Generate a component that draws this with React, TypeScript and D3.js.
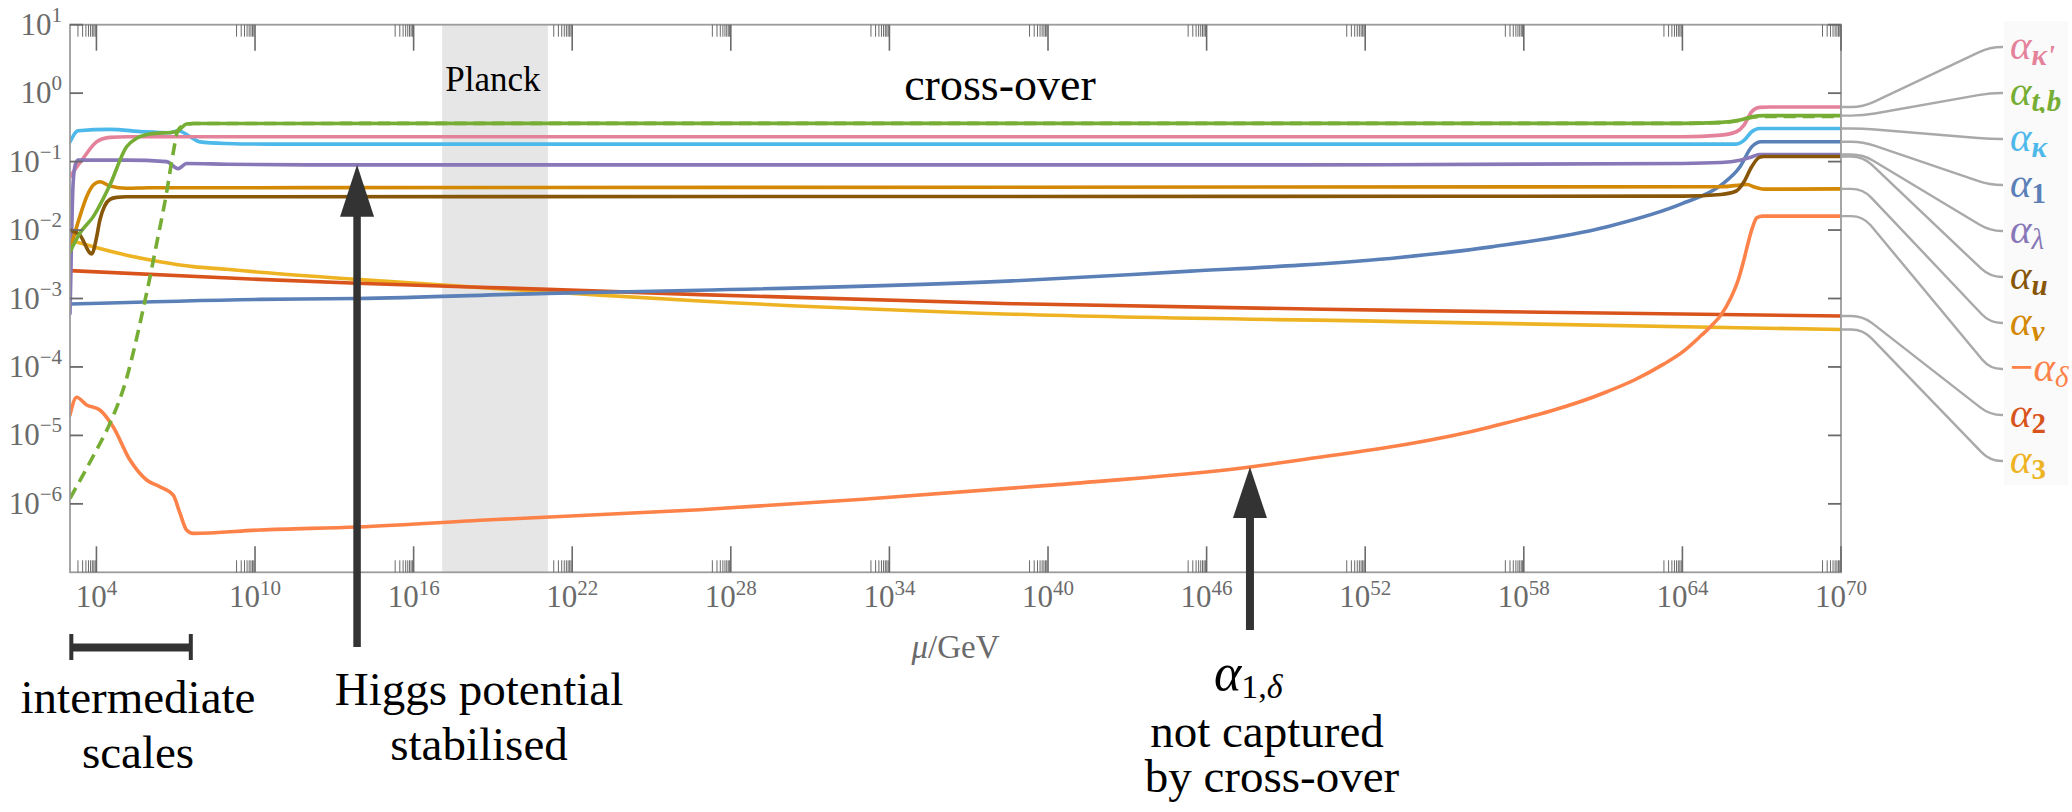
import React from 'react';
import * as d3 from 'd3';

// Each point is [log10(mu / GeV), alpha]
type Pt = [number, number];

const ALPHA_KAPPA_PRIME: Pt[] = [
  [3.0, 0.06], [3.5, 0.112], [4.01, 0.195], [4.51, 0.226], [5.2, 0.231], [64.0, 0.231],
  [65.46, 0.244], [66.04, 0.273], [66.33, 0.342], [66.62, 0.535], [66.91, 0.62], [67.3, 0.626], [70, 0.626],
];
const ALPHA_TB: Pt[] = [
  [3.0, 4.8e-3], [3.37, 8.95e-3], [3.88, 0.0157], [4.51, 0.0455], [5.14, 0.165], [5.52, 0.219],
  [6.02, 0.253], [7.03, 0.273], [7.41, 0.355], [7.66, 0.361], [64.0, 0.362], [65.46, 0.374],
  [66.18, 0.405], [66.62, 0.452], [67.1, 0.47], [70, 0.47],
];
const ALPHA_TB_ALT: Pt[] = [
  [3.0, 1.2e-6], [3.88, 5.0e-6], [4.51, 1.5e-5], [5.14, 6.8e-5], [5.45, 2.0e-4], [5.77, 7.1e-4],
  [6.02, 2.0e-3], [6.28, 6.4e-3], [6.65, 0.0344], [6.9, 0.132], [7.09, 0.29], [7.35, 0.343],
  [7.66, 0.361], [64.0, 0.362], [65.46, 0.372], [66.18, 0.4], [66.62, 0.44], [67.1, 0.455], [70, 0.455],
];
const ALPHA_KAPPA: Pt[] = [
  [3.0, 0.194], [3.31, 0.282], [4.51, 0.296], [5.77, 0.273], [6.78, 0.264], [7.09, 0.282],
  [7.54, 0.231], [7.91, 0.194], [8.92, 0.184], [10.5, 0.18], [66.04, 0.18], [66.33, 0.204],
  [66.62, 0.273], [66.91, 0.305], [70, 0.305],
];
const ALPHA_1: Pt[] = [
  [3.0, 8.3e-4], [10.18, 9.7e-4], [13.86, 1.0e-3], [21.08, 1.19e-3], [26.83, 1.32e-3],
  [38.66, 1.81e-3], [45.4, 2.51e-3], [49.54, 3.07e-3], [53.3, 3.98e-3], [56.77, 5.68e-3],
  [61.12, 0.0111], [64.01, 0.0245], [65.46, 0.0453], [66.18, 0.084], [66.62, 0.164], [66.98, 0.195], [70, 0.195],
];
const ALPHA_LAMBDA: Pt[] = [
  [3.0, 6e-4], [3.03, 2e-3], [3.07, 0.012], [3.12, 0.05], [3.2, 0.09], [3.31, 0.105], [5.14, 0.105],
  [6.65, 0.1], [7.09, 0.079], [7.41, 0.0937], [8.92, 0.0915], [12, 0.0897], [49.54, 0.0897],
  [64.01, 0.094], [65.46, 0.097], [66.18, 0.105], [66.62, 0.117], [66.91, 0.127], [70, 0.127],
];
const ALPHA_U: Pt[] = [
  [3.0, 0.01], [3.37, 8.45e-3], [3.82, 4.47e-3], [4.01, 8.0e-3], [4.13, 0.014], [4.51, 0.0281],
  [4.76, 0.03], [5.14, 0.0306], [64.01, 0.0313], [65.46, 0.0331], [66.04, 0.0372], [66.33, 0.0507],
  [66.62, 0.084], [66.91, 0.115], [67.1, 0.119], [70, 0.119],
];
const ALPHA_V: Pt[] = [
  [3.0, 5.08e-3], [3.37, 0.0157], [3.63, 0.0307], [3.88, 0.0455], [4.13, 0.0508], [4.51, 0.044],
  [5.14, 0.0407], [6.0, 0.0414], [65.46, 0.0429], [66.47, 0.0464], [66.69, 0.0429], [67.1, 0.0396], [70, 0.04],
];
const ALPHA_DELTA: Pt[] = [
  [3.0, 1.99e-5], [3.25, 3.6e-5], [3.63, 2.78e-5], [4.13, 2.35e-5], [4.63, 1.34e-5], [5.27, 4.36e-6],
  [5.9, 2.23e-6], [6.4, 1.78e-6], [6.9, 1.35e-6], [7.16, 7.3e-7], [7.41, 4.15e-7], [7.66, 3.7e-7],
  [10.18, 4.15e-7], [13.86, 4.6e-7], [19.1, 5.9e-7], [26.83, 8.2e-7], [33, 1.17e-6], [40, 1.86e-6],
  [47.64, 3.45e-6], [49.54, 4.36e-6], [56.77, 1.34e-5], [61.12, 4.3e-5], [62.2, 6.5e-5],
  [63.29, 1.1e-4], [64.01, 1.66e-4], [64.74, 2.95e-4], [65.1, 4.0e-4], [65.46, 5.74e-4], [65.82, 1.0e-3],
  [66.11, 1.86e-3], [66.32, 3.6e-3], [66.62, 0.01], [66.82, 0.0152], [67.04, 0.016], [70, 0.016],
];
const ALPHA_2: Pt[] = [
  [3.0, 2.55e-3], [10.18, 1.9e-3], [13.86, 1.67e-3], [21.08, 1.36e-3], [26.83, 1.14e-3],
  [38.66, 8.4e-4], [53.3, 6.7e-4], [70, 5.55e-4],
];
const ALPHA_3: Pt[] = [
  [3.0, 7.1e-3], [3.88, 5.7e-3], [5.14, 4.3e-3], [6.4, 3.45e-3], [7.66, 2.92e-3], [8.92, 2.67e-3],
  [10.18, 2.42e-3], [13.86, 1.9e-3], [18.5, 1.45e-3], [23.05, 1.12e-3], [26.83, 9.2e-4],
  [38.66, 5.9e-4], [53.3, 4.6e-4], [70, 3.52e-4],
];

const X_TICK_EXPS = [4, 10, 16, 22, 28, 34, 40, 46, 52, 58, 64, 70];
const Y_TICK_EXPS = [1, 0, -1, -2, -3, -4, -5, -6];
const MINOR_MULTS = [2, 3, 4, 5, 6, 7, 8, 9];

// log10(mu/GeV) ranges and annotation anchors
const PLANCK_BAND: [number, number] = [17.08, 21.08];
const INTERMEDIATE_RANGE: [number, number] = [3.05, 7.57];
const HIGGS_ARROW: Pt = [13.86, 0.0897];
const CROSSOVER_ARROW: Pt = [47.64, 3.45e-6];

type Series = {
  data: Pt[];
  color: string;
  dashed?: boolean;
};

const COLORS = {
  kappaPrime: '#e5829b',
  tb: '#76ad34',
  kappa: '#4db8ea',
  one: '#5b80b8',
  lambda: '#8878b8',
  u: '#875608',
  v: '#d38905',
  delta: '#fd8249',
  two: '#d9541c',
  three: '#eeb322',
};

// drawing order: later entries on top
const SERIES: Series[] = [
  { data: ALPHA_3, color: COLORS.three },
  { data: ALPHA_2, color: COLORS.two },
  { data: ALPHA_DELTA, color: COLORS.delta },
  { data: ALPHA_1, color: COLORS.one },
  { data: ALPHA_KAPPA, color: COLORS.kappa },
  { data: ALPHA_KAPPA_PRIME, color: COLORS.kappaPrime },
  { data: ALPHA_LAMBDA, color: COLORS.lambda },
  { data: ALPHA_V, color: COLORS.v },
  { data: ALPHA_U, color: COLORS.u },
  { data: ALPHA_TB, color: COLORS.tb },
  { data: ALPHA_TB_ALT, color: COLORS.tb, dashed: true },
];

type LegendItem = {
  data: Pt[];
  color: string;
  sub: string;
  subBold: boolean;
  subItalic: boolean;
  prefix?: string;
};

const LEGEND: LegendItem[] = [
  { data: ALPHA_KAPPA_PRIME, color: COLORS.kappaPrime, sub: "κ'", subBold: true, subItalic: true },
  { data: ALPHA_TB, color: COLORS.tb, sub: 't,b', subBold: true, subItalic: true },
  { data: ALPHA_KAPPA, color: COLORS.kappa, sub: 'κ', subBold: true, subItalic: true },
  { data: ALPHA_1, color: COLORS.one, sub: '1', subBold: true, subItalic: false },
  { data: ALPHA_LAMBDA, color: COLORS.lambda, sub: 'λ', subBold: false, subItalic: true },
  { data: ALPHA_U, color: COLORS.u, sub: 'u', subBold: true, subItalic: true },
  { data: ALPHA_V, color: COLORS.v, sub: 'v', subBold: true, subItalic: true },
  { data: ALPHA_DELTA, color: COLORS.delta, sub: 'δ', subBold: false, subItalic: true, prefix: '−' },
  { data: ALPHA_2, color: COLORS.two, sub: '2', subBold: true, subItalic: false },
  { data: ALPHA_3, color: COLORS.three, sub: '3', subBold: true, subItalic: false },
];

const SERIF = "'Liberation Serif', 'DejaVu Serif', serif";
const TICK_GRAY = '#6a6a6a';
const FRAME_GRAY = '#9c9c9c';
const INK = '#333333';

function leaderPath(x0: number, y0: number, xa: number, xb: number, x1: number, y1: number, r: number) {
  const dx = xb - xa;
  const dy = y1 - y0;
  const L = Math.hypot(dx, dy);
  const ux = dx / L;
  const uy = dy / L;
  const rr = Math.min(r, L / 2);
  return [
    `M${x0},${y0}`,
    `L${xa - rr},${y0}`,
    `Q${xa},${y0} ${xa + ux * rr},${y0 + uy * rr}`,
    `L${xb - ux * rr},${y1 - uy * rr}`,
    `Q${xb},${y1} ${xb + rr},${y1}`,
    `L${x1},${y1}`,
  ].join(' ');
}

function Arrow({ x, tipY, endY, headW, headH, shaftW }: { x: number; tipY: number; endY: number; headW: number; headH: number; shaftW: number }) {
  const baseY = tipY + headH;
  return (
    <g fill={INK}>
      <rect x={x - shaftW / 2} y={baseY - 1} width={shaftW} height={endY - baseY + 1} />
      <polygon points={`${x},${tipY} ${x - headW / 2},${baseY} ${x + headW / 2},${baseY}`} />
    </g>
  );
}

export default function App() {
  const W = 2072;
  const H = 812;
  const plot = { left: 70, right: 1841, top: 24.7, bottom: 572.3 };
  const mu = (e: number) => Math.pow(10, e);

  const x = d3.scaleLog().domain([1e3, 1e70]).range([plot.left, plot.right]);
  const y = d3.scaleLog().domain([1e-7, 10]).range([plot.bottom, plot.top]);

  const line = d3
    .line<Pt>()
    .x((d) => x(mu(d[0])))
    .y((d) => y(d[1]))
    .curve(d3.curveMonotoneX);

  const majorLen = 26;
  const minorLen = 12;
  const yTickLen = 13;

  const legendX = 2010;
  const legendBase = 59;
  const legendStep = 46;

  return (
    <svg
      width={W}
      height={H}
      viewBox={`0 0 ${W} ${H}`}
      style={{ position: 'absolute', left: 0, top: 0, background: '#fff' }}
      fontFamily={SERIF}
    >
      <defs>
        <clipPath id="plot-area">
          <rect x={plot.left} y={plot.top} width={plot.right - plot.left} height={plot.bottom - plot.top} />
        </clipPath>
      </defs>

      {/* Planck band */}
      <rect
        x={x(mu(PLANCK_BAND[0]))}
        y={plot.top}
        width={x(mu(PLANCK_BAND[1])) - x(mu(PLANCK_BAND[0]))}
        height={plot.bottom - plot.top}
        fill="#e6e6e6"
      />

      {/* running couplings */}
      <g clipPath="url(#plot-area)" fill="none" strokeLinecap="round" strokeLinejoin="round">
        {SERIES.map((s, i) => (
          <path
            key={i}
            d={line(s.data) || ''}
            stroke={s.color}
            strokeWidth={3.6}
            strokeDasharray={s.dashed ? '12 7' : undefined}
            strokeLinecap={s.dashed ? 'butt' : 'round'}
          />
        ))}
      </g>

      {/* frame */}
      <rect
        x={plot.left}
        y={plot.top}
        width={plot.right - plot.left}
        height={plot.bottom - plot.top}
        fill="none"
        stroke={FRAME_GRAY}
        strokeWidth={1.8}
      />

      {/* x ticks, top and bottom */}
      <g stroke={TICK_GRAY}>
        {X_TICK_EXPS.map((e) => {
          const xm = x(mu(e));
          return (
            <g key={e}>
              <line x1={xm} x2={xm} y1={plot.top} y2={plot.top + majorLen} strokeWidth={1.6} />
              <line x1={xm} x2={xm} y1={plot.bottom} y2={plot.bottom - majorLen} strokeWidth={1.6} />
              {MINOR_MULTS.map((k) => {
                const xn = x(k * mu(e - 1));
                return (
                  <g key={k}>
                    <line x1={xn} x2={xn} y1={plot.top} y2={plot.top + minorLen} strokeWidth={1} />
                    <line x1={xn} x2={xn} y1={plot.bottom} y2={plot.bottom - minorLen} strokeWidth={1} />
                  </g>
                );
              })}
            </g>
          );
        })}
        {Y_TICK_EXPS.map((e) => {
          const ym = y(mu(e));
          return (
            <g key={e}>
              <line x1={plot.left} x2={plot.left + yTickLen} y1={ym} y2={ym} strokeWidth={1.8} />
              <line x1={plot.right} x2={plot.right - yTickLen} y1={ym} y2={ym} strokeWidth={1.8} />
            </g>
          );
        })}
      </g>

      {/* x tick labels */}
      <g fill={TICK_GRAY} fontSize={31} textAnchor="middle">
        {X_TICK_EXPS.map((e) => (
          <text key={e} x={x(mu(e))} y={607}>
            10
            <tspan dy={-12} fontSize={21}>{e}</tspan>
          </text>
        ))}
      </g>

      {/* y tick labels */}
      <g fill={TICK_GRAY} fontSize={31} textAnchor="end">
        {Y_TICK_EXPS.map((e) => (
          <text key={e} x={62} y={y(mu(e)) + 10}>
            10
            <tspan dy={-13} fontSize={21}>{e < 0 ? `−${-e}` : `${e}`}</tspan>
          </text>
        ))}
      </g>

      {/* axis label */}
      <text x={(plot.left + plot.right) / 2} y={658} fill={TICK_GRAY} fontSize={33} textAnchor="middle">
        <tspan fontStyle="italic">μ</tspan>/GeV
      </text>

      {/* legend */}
      <g>
        {LEGEND.map((item, i) => {
          const last = item.data[item.data.length - 1];
          const y0 = y(last[1]);
          const base = legendBase + i * legendStep;
          const y1 = base - 12;
          return (
            <g key={i}>
              <rect x={2004} y={base - 38} width={64} height={50} fill="#fafafa" />
              <path
                d={leaderPath(plot.right, y0, 1863, 1990, 2003, y1, 12)}
                fill="none"
                stroke="#a9a9a9"
                strokeWidth={2.4}
              />
              <text x={legendX} y={base} fill={item.color} fontSize={41}>
                {item.prefix ? <tspan fontWeight="bold">{item.prefix}</tspan> : null}
                <tspan fontStyle="italic">α</tspan>
                <tspan
                  dy={6}
                  fontSize={29}
                  fontWeight={item.subBold ? 'bold' : 'normal'}
                  fontStyle={item.subItalic ? 'italic' : 'normal'}
                >
                  {item.sub}
                </tspan>
              </text>
            </g>
          );
        })}
      </g>

      {/* annotations */}
      <text x={493} y={91} fontSize={35} textAnchor="middle" fill="#000">
        Planck
      </text>
      <text x={1000} y={100} fontSize={46} textAnchor="middle" fill="#000">
        cross-over
      </text>

      <Arrow x={x(mu(HIGGS_ARROW[0]))} tipY={y(HIGGS_ARROW[1])} endY={647} headW={34} headH={52} shaftW={7.5} />
      <Arrow x={x(mu(CROSSOVER_ARROW[0]))} tipY={y(CROSSOVER_ARROW[1])} endY={630} headW={34} headH={51} shaftW={8} />

      {/* intermediate scales bracket */}
      <g fill={INK}>
        <rect
          x={x(mu(INTERMEDIATE_RANGE[0]))}
          y={643.5}
          width={x(mu(INTERMEDIATE_RANGE[1])) - x(mu(INTERMEDIATE_RANGE[0]))}
          height={8}
        />
        <rect x={x(mu(INTERMEDIATE_RANGE[0])) - 2} y={634} width={4} height={26} />
        <rect x={x(mu(INTERMEDIATE_RANGE[1])) - 2} y={634} width={4} height={26} />
      </g>

      <g fontSize={47} textAnchor="middle" fill="#000">
        <text x={138} y={713}>intermediate</text>
        <text x={138} y={768}>scales</text>
        <text x={479} y={705}>Higgs potential</text>
        <text x={479} y={760}>stabilised</text>
        <text x={1267} y={747}>not captured</text>
        <text x={1272} y={792}>by cross-over</text>
      </g>
      <text x={1214} y={690} fill="#000" fontSize={52}>
        <tspan fontStyle="italic">α</tspan>
        <tspan dy={8} fontSize={34}>1,</tspan>
        <tspan fontSize={34} fontStyle="italic">δ</tspan>
      </text>
    </svg>
  );
}
